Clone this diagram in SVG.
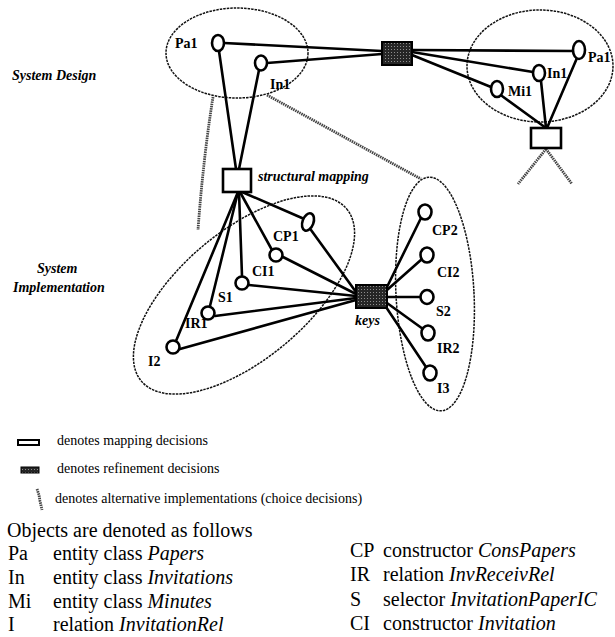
<svg xmlns="http://www.w3.org/2000/svg" width="615" height="637" viewBox="0 0 615 637">
<defs>
<pattern id="stip" width="3" height="3" patternUnits="userSpaceOnUse"><rect width="3" height="3" fill="#262626"/><rect x="1" y="1" width="1" height="1" fill="#8c8c8c"/></pattern>
<style>
.t{font-family:"Liberation Serif","Times New Roman",serif;fill:#000}
.lbl{font-size:14px;font-weight:bold}
.bi{font-size:14px;font-weight:bold;font-style:italic}
.leg{font-size:14px}
.big{font-size:20px}
.it{font-style:italic}
.grp{fill:none;stroke:#111;stroke-width:1.5;stroke-dasharray:2.5 1}
.edge{stroke:#000;stroke-width:2.6;fill:none;stroke-linecap:round}
.choice{stroke:#444;stroke-width:2.8;fill:none;stroke-dasharray:1.5 0.8}
.node{fill:#fff;stroke:#000;stroke-width:2.6}
.map{fill:#fff;stroke:#000;stroke-width:2.6}
.ref{fill:url(#stip);stroke:#000;stroke-width:2}
</style>
</defs>
<rect width="615" height="637" fill="#fff"/>

<g id="groups">
<ellipse class="grp" cx="237" cy="53" rx="71" ry="45"/>
<ellipse class="grp" cx="540" cy="66" rx="73" ry="56"/>
<ellipse class="grp" cx="244" cy="295" rx="134" ry="64" transform="rotate(-40 244 295)"/>
<ellipse class="grp" cx="435" cy="294" rx="39" ry="117" transform="rotate(-3 435 294)"/>
</g>

<g id="connectors">
<line class="edge" x1="224" y1="43" x2="382" y2="51"/>
<line class="edge" x1="267" y1="63" x2="382" y2="54"/>
<line class="edge" x1="412" y1="50" x2="573" y2="51"/>
<line class="edge" x1="412" y1="52" x2="533" y2="72"/>
<line class="edge" x1="412" y1="55" x2="491" y2="87"/>
<line class="edge" x1="546" y1="128" x2="502" y2="96"/>
<line class="edge" x1="546" y1="128" x2="541" y2="81"/>
<line class="edge" x1="547" y1="128" x2="577" y2="58"/>
<line class="edge" x1="219" y1="51" x2="236" y2="169"/>
<line class="edge" x1="259" y1="70" x2="239" y2="169"/>
<line class="edge" x1="238" y1="192" x2="176" y2="341"/>
<line class="edge" x1="238" y1="192" x2="210" y2="306"/>
<line class="edge" x1="239" y1="192" x2="242" y2="276"/>
<line class="edge" x1="240" y1="192" x2="272" y2="250"/>
<line class="edge" x1="242" y1="192" x2="302" y2="218"/>
<line class="edge" x1="311" y1="230" x2="356" y2="292"/>
<line class="edge" x1="283" y1="257" x2="356" y2="294"/>
<line class="edge" x1="249" y1="285" x2="356" y2="296"/>
<line class="edge" x1="215" y1="316" x2="356" y2="298"/>
<line class="edge" x1="180" y1="349" x2="356" y2="300"/>
<line class="edge" x1="387" y1="287" x2="421" y2="218"/>
<line class="edge" x1="387" y1="290" x2="422" y2="259"/>
<line class="edge" x1="387" y1="297" x2="420" y2="297"/>
<line class="edge" x1="387" y1="303" x2="423" y2="329"/>
<line class="edge" x1="386" y1="307" x2="426" y2="367"/>
<path class="choice" d="M213,97 Q203,160 198,230"/>
<line class="choice" x1="267" y1="95" x2="421" y2="179"/>
<line class="choice" x1="546" y1="149" x2="518" y2="184"/>
<line class="choice" x1="546" y1="149" x2="572" y2="184"/>
</g>

<g id="n-pa1-left"><ellipse class="node" cx="218" cy="43" rx="6" ry="8"/><text class="t lbl" x="175" y="48">Pa1</text></g>
<g id="n-in1-left"><ellipse class="node" cx="261" cy="63" rx="6" ry="7.5"/><text class="t lbl" x="270" y="89">In1</text></g>
<g id="n-refine-top"><rect class="ref" x="382" y="42" width="30" height="23"/></g>
<g id="n-pa1-right"><ellipse class="node" cx="579" cy="50" rx="6" ry="9"/><text class="t lbl" x="588" y="62">Pa1</text></g>
<g id="n-in1-right"><ellipse class="node" cx="539" cy="73" rx="6" ry="8"/><text class="t lbl" x="547" y="78">In1</text></g>
<g id="n-mi1"><ellipse class="node" cx="497" cy="89" rx="6" ry="8"/><text class="t lbl" x="508" y="96">Mi1</text></g>
<g id="n-map-right"><rect class="map" x="531" y="128" width="30" height="20"/></g>
<g id="n-struct-map"><rect class="map" x="223" y="169" width="28" height="23"/><text class="t bi" x="258" y="181">structural mapping</text></g>
<g id="n-cp1"><ellipse class="node" cx="308" cy="222" rx="5.5" ry="9" transform="rotate(20 308 222)"/><text class="t lbl" x="273" y="241">CP1</text></g>
<g id="n-ci1"><circle class="node" cx="276" cy="255" r="6.5"/><text class="t lbl" x="252" y="276">CI1</text></g>
<g id="n-s1"><circle class="node" cx="242" cy="283" r="6.5"/><text class="t lbl" x="218" y="302">S1</text></g>
<g id="n-ir1"><circle class="node" cx="208" cy="313" r="6.5"/><text class="t lbl" x="185" y="328">IR1</text></g>
<g id="n-i2"><circle class="node" cx="173" cy="347" r="6.5"/><text class="t lbl" x="148" y="366">I2</text></g>
<g id="n-keys"><rect class="ref" x="356" y="285" width="31" height="23"/><text class="t bi" x="355" y="325">keys</text></g>
<g id="n-cp2"><ellipse class="node" cx="425" cy="212" rx="6.5" ry="7.5"/><text class="t lbl" x="432" y="235">CP2</text></g>
<g id="n-ci2"><ellipse class="node" cx="427" cy="255" rx="6.5" ry="7.5"/><text class="t lbl" x="437" y="277">CI2</text></g>
<g id="n-s2"><ellipse class="node" cx="427" cy="297" rx="6.5" ry="7"/><text class="t lbl" x="436" y="316">S2</text></g>
<g id="n-ir2"><ellipse class="node" cx="428" cy="333" rx="6.5" ry="7.5"/><text class="t lbl" x="437" y="353">IR2</text></g>
<g id="n-i3"><ellipse class="node" cx="430" cy="373" rx="6.5" ry="7.5"/><text class="t lbl" x="437" y="393">I3</text></g>

<g id="side-labels">
<text class="t bi" x="12" y="80">System Design</text>
<text class="t bi" x="37" y="273">System</text>
<text class="t bi" x="13" y="292">Implementation</text>
</g>

<g id="legend">
<rect x="18" y="440" width="21" height="5" fill="#fff" stroke="#000" stroke-width="2"/>
<text class="t leg" x="57" y="445">denotes mapping decisions</text>
<rect x="21" y="467" width="18" height="6" fill="url(#stip)" stroke="#000" stroke-width="1"/>
<text class="t leg" x="57" y="473">denotes refinement decisions</text>
<path class="choice" d="M37,489 L39,495 L40,501 L42,510" stroke-width="2"/>
<text class="t leg" x="55" y="503">denotes alternative implementations (choice decisions)</text>
<text class="t big" x="7" y="537">Objects are denoted as follows</text>
<text class="t big" x="8" y="560">Pa</text><text class="t big" x="53" y="560">entity class <tspan class="it">Papers</tspan></text>
<text class="t big" x="8" y="584">In</text><text class="t big" x="53" y="584">entity class <tspan class="it">Invitations</tspan></text>
<text class="t big" x="8" y="608">Mi</text><text class="t big" x="53" y="608">entity class <tspan class="it">Minutes</tspan></text>
<text class="t big" x="8" y="631">I</text><text class="t big" x="53" y="631">relation <tspan class="it">InvitationRel</tspan></text>
<text class="t big" x="350" y="557">CP</text><text class="t big" x="383" y="557">constructor <tspan class="it">ConsPapers</tspan></text>
<text class="t big" x="350" y="581">IR</text><text class="t big" x="383" y="581">relation <tspan class="it">InvReceivRel</tspan></text>
<text class="t big" x="350" y="606">S</text><text class="t big" x="383" y="606">selector <tspan class="it">InvitationPaperIC</tspan></text>
<text class="t big" x="350" y="630">CI</text><text class="t big" x="383" y="630">constructor <tspan class="it">Invitation</tspan></text>
</g>
</svg>
